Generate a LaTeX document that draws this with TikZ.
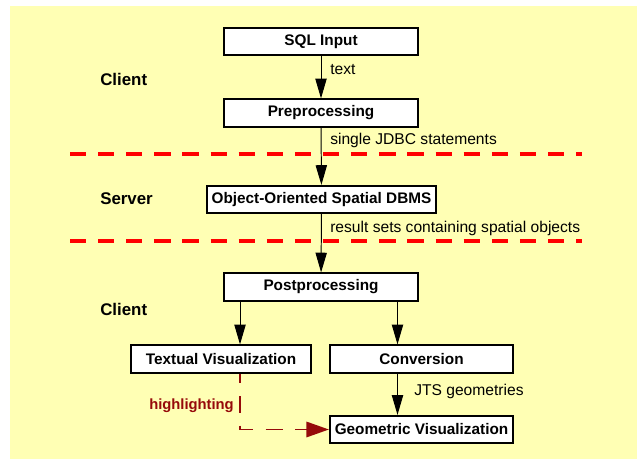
\documentclass[tikz,border=0pt]{standalone}
\usepackage{fontspec}
\setmainfont{Liberation Sans}
\usetikzlibrary{arrows.meta}
\definecolor{bgyellow}{RGB}{255,255,180}
\definecolor{hlred}{RGB}{150,10,10}

\begin{document}
\begin{tikzpicture}[x=0.025cm,y=-0.025cm,
  box/.style={draw,line width=1.4pt,fill=white,inner sep=0pt,minimum height=0.68cm,
    font=\bfseries\fontsize{10.9}{12}\selectfont},
  lbl/.style={anchor=west,inner sep=0pt,font=\fontsize{11.1}{13}\selectfont},
  side/.style={anchor=west,inner sep=0pt,font=\bfseries\fontsize{12}{14}\selectfont},
  arr/.style={line width=0.7pt,-{Triangle[length=14pt,width=8pt]}},
  sep/.style={red,line width=2.4pt,dash pattern=on 11.5pt off 8.5pt},
  hl/.style={hlred,line width=1.2pt,dash pattern=on 12pt off 9pt,dash phase=5pt,
    -{Triangle[length=16pt,width=11pt]}}]
\useasboundingbox (0,0) rectangle (637,459);
\fill[bgyellow] (10,6) rectangle (637,459);

% tiers
\draw[sep] (70,154) -- (582,154);
\draw[sep] (70,241) -- (582,241);
\node[side] (client1) at (100,79) {Client};
\node[side] (server) at (100,199) {Server};
\node[side] (client2) at (100,309) {Client};

% boxes
\node[box,minimum width=4.85cm] (sql) at (321,41.5) {SQL Input};
\node[box,minimum width=4.85cm] (pre) at (321,113) {Preprocessing};
\node[box,minimum width=5.72cm] (dbms) at (321.5,199.5) {Object-Oriented Spatial DBMS};
\node[box,minimum width=4.85cm] (post) at (321,287) {Postprocessing};
\node[box,minimum width=4.5cm] (tv) at (221,359) {Textual Visualization};
\node[box,minimum width=4.58cm] (conv) at (421.5,359) {Conversion};
\node[box,minimum width=4.58cm] (geo) at (421.5,429.5) {Geometric Visualization};

% flow
\draw[arr] (sql) -- (pre);
\draw[arr] (pre) -- (dbms);
\draw[arr] (dbms) -- (post);
\draw[arr] ([xshift=0.475cm]tv.north |- post.south) -- ([xshift=0.475cm]tv.north);
\draw[arr] ([xshift=-0.6cm]conv.north |- post.south) -- ([xshift=-0.6cm]conv.north);
\draw[arr] ([xshift=-0.6cm]conv.south) -- ([xshift=-0.6cm]geo.north);
\draw[hl] ([xshift=0.475cm]tv.south) |- (geo.west);

% edge labels
\node[lbl] (ltext) at (330,70) {text};
\node[lbl] (ljdbc) at (330,140) {single JDBC statements};
\node[lbl] (lres) at (330,228) {result sets containing spatial objects};
\node[lbl] (ljts) at (414,391) {JTS geometries};
\node[lbl,anchor=east,text=hlred,font=\bfseries\fontsize{10.5}{12}\selectfont] (lhl) at (234,406) {highlighting};
\end{tikzpicture}
\end{document}
